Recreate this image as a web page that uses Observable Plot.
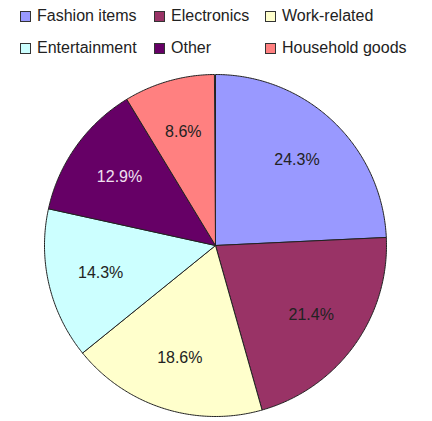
<!DOCTYPE html>
<html>
<head>
<meta charset="utf-8">
<script src="https://cdn.jsdelivr.net/npm/d3@7"></script>
<script src="https://cdn.jsdelivr.net/npm/@observablehq/plot@0.6"></script>
<style>
  html, body { margin: 0; padding: 0; background: #fff; }
  body { width: 432px; height: 421px; position: relative; overflow: hidden; font-family: "Liberation Sans", Arial, sans-serif; }
  #legend { position: relative; height: 64px; }
  .item { position: absolute; display: flex; align-items: center; font-size: 16px; color: #222; white-space: nowrap; }
  .sw { width: 9px; height: 9px; border: 1px solid #333; margin-right: 6px; }
  #chart { position: absolute; left: 0; top: 64px; }
</style>
</head>
<body>
<div id="legend"></div>
<div id="chart"></div>
<script>
const categories = ["Fashion items", "Electronics", "Work-related", "Entertainment", "Other", "Household goods"];
const values = [24.3, 21.4, 18.6, 14.3, 12.9, 8.6];
const colors = ["#9999FF", "#993366", "#FFFFCC", "#CCFFFF", "#660066", "#FF8080"];
const labelColors = ["#222", "#222", "#222", "#222", "#f0e0f0", "#222"];

// Legend (HTML, above the SVG)
const legendCols = [20, 154, 265];
const legendRows = [16, 48];
const legend = document.getElementById("legend");
categories.forEach((c, i) => {
  const d = document.createElement("div");
  d.className = "item";
  d.style.left = legendCols[i % 3] + "px";
  d.style.top = (legendRows[Math.floor(i / 3)] - 9) + "px";
  d.innerHTML = `<span class="sw" style="background:${colors[i]}"></span><span>${c}</span>`;
  legend.appendChild(d);
});

const W = 432, H = 357;
const cx = 215, cy = 181, r = 171;
const total = d3.sum(values);
const pie = d3.pie().sort(null).value(d => d)(values);

const polys = [];
const labels = [];
pie.forEach((p, i) => {
  const a0 = p.startAngle * 100 / total, a1 = p.endAngle * 100 / total;
  const n = Math.max(2, Math.ceil((a1 - a0) / 0.01));
  polys.push({cat: categories[i], x: cx, y: cy});
  for (let k = 0; k <= n; k++) {
    const a = a0 + (a1 - a0) * k / n;
    polys.push({cat: categories[i], x: cx + r * Math.sin(a), y: cy - r * Math.cos(a)});
  }
  polys.push({cat: categories[i], x: cx, y: cy});
  const am = (a0 + a1) / 2;
  labels.push({cat: categories[i], text: values[i].toFixed(1) + "%", x: cx + 0.69 * r * Math.sin(am), y: cy - 0.69 * r * Math.cos(am), color: labelColors[i]});
});

const chart = Plot.plot({
  width: W, height: H,
  margin: 0,
  x: {domain: [0, W], range: [0, W], axis: null},
  y: {domain: [0, H], range: [0, H], axis: null},
  color: {domain: categories, range: colors},
  marks: [
    Plot.line(polys, {x: "x", y: "y", z: "cat", fill: "cat", stroke: "#222", strokeWidth: 1, curve: "linear"}),
    Plot.text(labels, {x: "x", y: "y", text: "text", fill: "color", fontSize: 16, fontFamily: "Liberation Sans, Arial, sans-serif"})
  ]
});
document.getElementById("chart").appendChild(chart);
</script>
</body>
</html>
